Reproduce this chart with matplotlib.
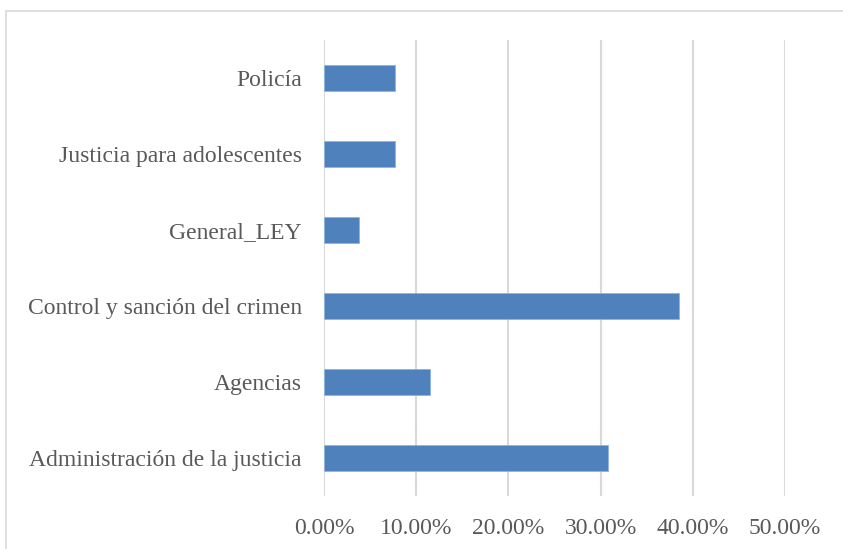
import matplotlib.pyplot as plt
from matplotlib.patches import Rectangle
from matplotlib.ticker import FuncFormatter

categories = ["Administración de la justicia", "Agencias", "Control y sanción del crimen",
              "General_LEY", "Justicia para adolescentes", "Policía"]
values = [30.77, 11.54, 38.46, 3.85, 7.69, 7.69]
xticks = [0, 10, 20, 30, 40, 50]

plt.rcParams['font.family'] = ['Liberation Serif', 'DejaVu Serif']

fig = plt.figure(figsize=(8.43, 5.49), dpi=100)
ax = fig.add_axes([324 / 843, 1 - 496 / 549, 461 / 843, 456 / 549])

ax.barh(range(len(categories)), values, height=0.355, color='#4F81BD',
        edgecolor='#8EB4E3', linewidth=0.6, zorder=3)

ax.set_xlim(0, 50)
ax.set_ylim(-0.5, len(categories) - 0.5)
ax.set_xticks(xticks)
ax.xaxis.set_major_formatter(FuncFormatter(lambda v, p: f"{v:.2f}%"))
ax.set_yticks(range(len(categories)))
ax.set_yticklabels(categories)

ax.grid(axis='x', color='#D9D9D9', linewidth=1.5, zorder=0)
for s in ax.spines.values():
    s.set_visible(False)
ax.tick_params(axis='both', length=0, labelsize=17, colors='#595959')
ax.tick_params(axis='x', pad=15.5)
ax.tick_params(axis='y', pad=16)

# light frame around the chart area (right/bottom edges fall outside the image)
fig.patches.append(Rectangle((6 / 843, -0.05), 1.1, 1 - 11 / 549 + 0.05,
                             transform=fig.transFigure, fill=False,
                             edgecolor='#D9D9D9', linewidth=1.2))

fig.savefig("out.png", dpi=100)
